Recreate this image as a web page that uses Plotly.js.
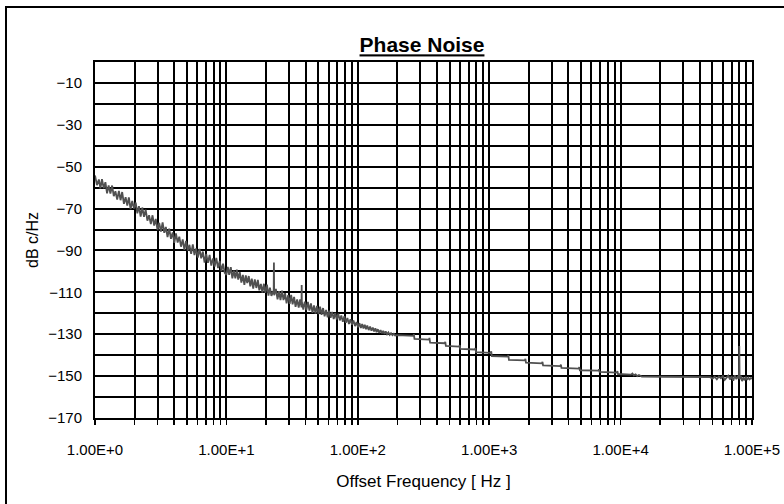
<!DOCTYPE html>
<html>
<head>
<meta charset="utf-8">
<script src="https://cdn.plot.ly/plotly-3.0.1.min.js"></script>
<style>
html,body{margin:0;padding:0;background:#fff;}
#chart{width:784px;height:504px;}
</style>
</head>
<body>
<div id="chart"></div>
<script>
// Offset frequency [Hz] and phase noise [dBc/Hz]
var freqLow = [1.00,1.035,1.07,1.10,1.13,1.165,1.20,1.235,1.27,1.31,1.35,1.39,1.43,1.475,1.52,1.565,1.61,1.66,1.71,1.76,1.81,1.865,1.92,1.98,2.04,2.10,2.16,2.225,2.29,2.36,2.43,2.505,2.58,2.66,2.74,2.82,2.90,2.99,3.08,3.175,3.27,3.365,3.46,3.565,3.67,3.785,3.90,4.015,4.13,4.255,4.38,4.515,4.65,4.79,4.93,5.08,5.23,5.39,5.55,5.715,5.88,6.06,6.24,6.43,6.62,6.82,7.02,7.235,7.45,7.675,7.90,8.14,8.38,8.635,8.89,9.16,9.43,9.71];
var noiseLow = [-54.2,-58.8,-56.1,-60.4,-55.9,-60.3,-57.4,-62.7,-58.9,-62.8,-59.0,-64.1,-61.7,-65.7,-61.6,-66.0,-62.1,-67.7,-64.6,-68.6,-64.7,-70.3,-66.4,-70.0,-67.1,-72.3,-68.8,-73.8,-69.5,-73.9,-70.5,-75.8,-73.2,-77.4,-73.2,-78.1,-74.9,-80.2,-76.8,-81.0,-76.6,-81.6,-78.8,-83.6,-79.6,-84.4,-81.4,-86.4,-81.8,-86.2,-83.4,-88.2,-84.7,-89.7,-85.4,-90.0,-87.3,-91.6,-87.1,-92.2,-89.1,-93.4,-89.2,-93.7,-90.5,-95.8,-91.6,-95.9,-92.1,-97.2,-93.8,-97.7,-93.5,-98.4,-95.0,-99.9,-96.3,-100.7];

var freqMid = [10.0,10.25,10.5,10.8,11.1,11.4,11.7,12.0,12.3,12.65,13.0,13.35,13.7,14.05,14.4,14.8,15.2,15.6,16.0,16.45,16.9,17.35,17.8,18.3,18.8,19.3,19.8,20.35,20.9,21.45,22.0,22.9,23.0,23.1,23.8,24.5,25.15,25.8,26.5,27.2,27.95,28.7,29.5,30.3,31.1,31.9,32.75,33.6,34.55,35.5,36.4,37.3,37.4,37.5,38.5,39.5,40.6,41.7,42.85,44.0,45.2,46.4,47.65,48.9,50.25,51.6,53.0,54.4,55.9,57.4,58.95,60.5,62.15,63.8,65.55,67.3,69.15,71.0,72.95,74.9,76.95,79.0,81.15,83.3,85.6,87.9,90.3,92.7,95.25,97.8];
var noiseMid = [-101.7,-97.8,-101.6,-98.0,-103.3,-99.6,-103.3,-99.1,-103.9,-100.3,-105.3,-101.7,-106.4,-101.9,-105.6,-102.2,-107.1,-103.5,-108.2,-103.8,-107.9,-104.1,-109.0,-106.0,-110.1,-105.9,-110.2,-106.3,-111.6,-107.8,-111.7,-109.1,-95.8,-111.4,-108.4,-113.3,-109.4,-113.7,-109.2,-113.7,-110.4,-115.3,-111.4,-115.5,-111.2,-115.7,-112.2,-116.9,-113.4,-117.3,-113.4,-117.2,-106.5,-114.5,-118.2,-114.4,-118.5,-114.6,-118.7,-115.3,-119.8,-116.2,-120.1,-116.5,-120.4,-116.8,-120.7,-117.5,-121.4,-118.4,-121.9,-118.7,-122.2,-119.4,-122.7,-119.9,-123.0,-120.2,-123.4,-121.0,-124.1,-121.4,-124.5,-122.2,-125.1,-122.8,-125.5,-123.4,-126.1,-124.2];

var freqHigh = [100.5,103,105.5,108,110.5,113,115.5,118,121,124,127,130,133,136,139,142,145.5,149,152.5,156,159.5,163,167,171,175,179,183.5,188,192.5,197,
  200,265,267,270,348,351,355,459,463,468,591,597,603,778,786,794,1026,1036,1047,1385,1399,1413,1867,1886,1905,2519,2544,2570,3477,3512,3548,4800,4849,4898,6780,6849,6918,9359,9454,9550,
  12000,12300,12600,13000,13400,13800,14500,21000,48000,
  50000,52000,54000,56000,58000,60000,62000,64000,66000,68000,70000,72000,74000,76000,78000,79500,80000,80500,82000,84000,86000,88000,90000,92000,94000,96000,98000,100000];
var noiseHigh = [-126.6,-124.7,-127.0,-125.1,-127.3,-125.5,-127.6,-125.9,-128.0,-126.3,-128.3,-126.8,-128.7,-127.2,-129.0,-127.6,-129.3,-128.0,-129.5,-128.4,-129.8,-128.7,-130.0,-129.1,-130.3,-129.5,-130.4,-129.8,-130.6,-130.4,
  -130.4,-130.8,-130.0,-132.2,-132.6,-131.8,-134.0,-134.3,-133.6,-135.6,-135.9,-135.2,-137.0,-137.3,-136.6,-138.6,-138.9,-138.2,-140.4,-140.7,-140.0,-142.2,-142.5,-141.8,-143.6,-143.9,-143.2,-144.9,-145.2,-144.5,-146.1,-146.4,-145.7,-147.2,-147.4,-146.7,-148.0,-148.3,-147.6,-149.0,
  -149.3,-148.8,-149.6,-149.2,-150.0,-149.5,-150.2,-150.3,-150.5,
  -151.2,-150.3,-151.5,-150.2,-151.0,-150.0,-151.8,-150.5,-149.8,-151.6,-150.2,-152.2,-149.6,-151.4,-150.4,-151.0,-135.6,-151.5,-149.8,-152.4,-150.6,-152.0,-150.3,-151.8,-150.8,-151.5,-150.9,-151.2];

var xTickVals = [1,10,100,1000,10000,100000];
var xTickText = ["1.00E+0","1.00E+1","1.00E+2","1.00E+3","1.00E+4","1.00E+5"];
var xMinorVals = [2,3,4,5,6,7,8,9,20,30,40,50,60,70,80,90,200,300,400,500,600,700,800,900,2000,3000,4000,5000,6000,7000,8000,9000,20000,30000,40000,50000,60000,70000,80000,90000];
var yTickVals = [-170,-150,-130,-110,-90,-70,-50,-30,-10];
var yMinorVals = [-160,-140,-120,-100,-80,-60,-40,-20,0];

var freq = freqLow.concat(freqMid, freqHigh);
var dbc = noiseLow.concat(noiseMid, noiseHigh);

var trace = {
  x: freq, y: dbc, type: 'scatter', mode: 'lines',
  line: {color: '#505050', width: 1.8},
  hoverinfo: 'x+y'
};

var font = "Arial, 'Liberation Sans', sans-serif";
var layout = {
  width: 784, height: 504,
  margin: {l: 95, r: 32, t: 62, b: 86},
  paper_bgcolor: '#fff', plot_bgcolor: '#fff',
  showlegend: false,
  font: {family: font, color: '#000', size: 15},
  title: {
    text: '<b>Phase Noise</b>',
    font: {family: font, size: 21, color: '#000', lineposition: 'under'},
    x: 422/784, xref: 'container', xanchor: 'center',
    y: 1 - 45/504, yref: 'container', yanchor: 'middle'
  },
  xaxis: {
    type: 'log', range: [0, 5],
    tickmode: 'array', tickvals: xTickVals, ticktext: xTickText,
    ticks: 'outside', ticklen: 5, tickwidth: 1.5, tickcolor: '#000',
    ticklabelstandoff: 12,
    showgrid: true, gridcolor: '#000', gridwidth: 2,
    minor: {tickmode: 'array', tickvals: xMinorVals, ticks: 'outside', ticklen: 5, tickwidth: 1.5, tickcolor: '#000', showgrid: true, gridcolor: '#000', gridwidth: 2},
    showline: true, linecolor: '#000', linewidth: 2, mirror: true,
    zeroline: false,
    tickfont: {family: font, size: 15, color: '#000'},
    title: {text: 'Offset Frequency [ Hz ]', font: {family: font, size: 17, color: '#000'}, standoff: 18},
    automargin: false
  },
  yaxis: {
    range: [-170, 0],
    tickmode: 'array', tickvals: yTickVals,
    ticks: '', ticklabelstandoff: 8,
    showgrid: true, gridcolor: '#000', gridwidth: 2,
    minor: {tickmode: 'array', tickvals: yMinorVals, showgrid: true, gridcolor: '#000', gridwidth: 2, ticks: ''},
    showline: true, linecolor: '#000', linewidth: 2, mirror: true,
    zeroline: false,
    tickfont: {family: font, size: 15, color: '#000'},
    title: {text: 'dB c/Hz', font: {family: font, size: 16, color: '#000'}, standoff: 6},
    automargin: false
  },
  shapes: [{
    type: 'rect', xref: 'paper', yref: 'paper',
    x0: (6 - 95) / 657, x1: (800 - 95) / 657,
    y0: (418 - 520) / 356, y1: (418 - 7) / 356,
    line: {color: '#000', width: 2}, fillcolor: 'rgba(0,0,0,0)', layer: 'below'
  }]
};

Plotly.newPlot('chart', [trace], layout, {staticPlot: true, displayModeBar: false});
</script>
</body>
</html>
